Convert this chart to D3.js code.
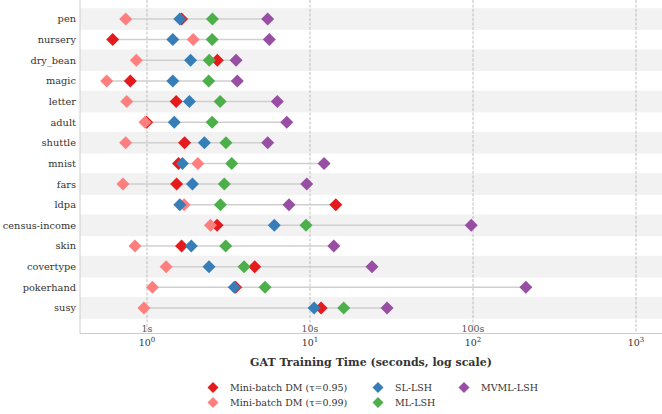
<!DOCTYPE html>
<html>
<head>
<meta charset="utf-8">
<script src="https://cdn.jsdelivr.net/npm/d3@7"></script>
<style>
  body { margin: 0; background: #fff; }
  svg { font-family: "DejaVu Serif", serif; }
</style>
</head>
<body>
<svg id="chart" width="662" height="414"></svg>
<script>
// datasets, top to bottom
const datasets = ['pen', 'nursery', 'dry_bean', 'magic', 'letter', 'adult', 'shuttle', 'mnist',
  'fars', 'ldpa', 'census-income', 'skin', 'covertype', 'pokerhand', 'susy'];

// training time in seconds
const dm095 = [1.63, 0.616, 2.70, 0.790, 1.51, 0.996, 1.70, 1.56, 1.52, 14.4, 2.69, 1.63, 4.58, 3.50, 11.7];
const dm099 = [0.740, 1.92, 0.860, 0.566, 0.751, 0.972, 0.740, 2.05, 0.712, 1.69, 2.45, 0.844, 1.31, 1.08, 0.958];
const slLsh = [1.59, 1.44, 1.85, 1.44, 1.82, 1.47, 2.25, 1.65, 1.90, 1.59, 6.04, 1.87, 2.40, 3.43, 10.6];
const mlLsh = [2.52, 2.51, 2.41, 2.39, 2.81, 2.51, 3.05, 3.31, 2.98, 2.82, 9.45, 3.04, 3.94, 5.30, 16.1];
const mvmlLsh = [5.50, 5.63, 3.52, 3.58, 6.30, 7.20, 5.50, 12.2, 9.55, 7.43, 97.6, 14.0, 24.0, 211, 29.7];

const series = [
  { name: 'Mini-batch DM (τ=0.95)', values: dm095, color: '#e41a1c' },
  { name: 'Mini-batch DM (τ=0.99)', values: dm099, color: '#ff7f7f' },
  { name: 'SL-LSH', values: slLsh, color: '#377eb8' },
  { name: 'ML-LSH', values: mlLsh, color: '#4daf4a' },
  { name: 'MVML-LSH', values: mvmlLsh, color: '#984ea3' }
];

const decades = [1, 10, 100, 1000];
const decadeLabels = ['1s', '10s', '100s'];

const plotLeft = 80, plotRight = 662, plotTop = 0, plotBottom = 333.5;

const svg = d3.select('#chart');

// log x: 1s at 147px, one decade is 163px
const x = d3.scaleLog()
  .domain([Math.pow(10, (plotLeft - 147) / 163), Math.pow(10, (plotRight - 147) / 163)])
  .range([plotLeft, plotRight]);

const y = d3.scaleLinear()
  .domain([-0.92, 15.24])
  .range([plotTop, plotBottom]);

const step = y(1) - y(0);

// alternating row bands
svg.append('g').selectAll('rect')
  .data(datasets.filter((d, i) => i % 2 === 0))
  .join('rect')
  .attr('x', plotLeft)
  .attr('width', plotRight - plotLeft)
  .attr('y', d => y(datasets.indexOf(d)) - step / 2 - 0.5)
  .attr('height', step + 1)
  .attr('fill', '#f2f2f2');

// dashed vertical grid at decades
svg.append('g').selectAll('line')
  .data(decades)
  .join('line')
  .attr('x1', d => x(d)).attr('x2', d => x(d))
  .attr('y1', plotTop).attr('y2', plotBottom)
  .attr('stroke', '#b0b0b0')
  .attr('stroke-width', 0.8)
  .attr('stroke-dasharray', '3,1.5');

// range line per dataset
svg.append('g').selectAll('line')
  .data(datasets)
  .join('line')
  .attr('x1', (d, i) => x(d3.min(series, s => s.values[i])))
  .attr('x2', (d, i) => x(d3.max(series, s => s.values[i])))
  .attr('y1', (d, i) => y(i)).attr('y2', (d, i) => y(i))
  .attr('stroke', '#cfcfcf')
  .attr('stroke-width', 1.5);

const diamond = r => `M0,${-r}L${r},0L0,${r}L${-r},0Z`;

// markers
series.forEach(s => {
  svg.append('g').selectAll('path')
    .data(s.values)
    .join('path')
    .attr('d', diamond(6.5))
    .attr('transform', (d, i) => `translate(${x(d)},${y(i)})`)
    .attr('fill', s.color);
});

// spines
svg.append('line')
  .attr('x1', plotLeft).attr('x2', plotLeft).attr('y1', plotTop).attr('y2', plotBottom)
  .attr('stroke', '#cccccc').attr('stroke-width', 1);
svg.append('line')
  .attr('x1', plotLeft).attr('x2', plotRight).attr('y1', plotBottom).attr('y2', plotBottom)
  .attr('stroke', '#cccccc').attr('stroke-width', 1);

// y labels
svg.append('g').selectAll('text')
  .data(datasets)
  .join('text')
  .attr('x', plotLeft - 4)
  .attr('y', (d, i) => y(i))
  .attr('dy', '0.35em')
  .attr('text-anchor', 'end')
  .attr('font-size', 9.8)
  .attr('fill', '#333')
  .text(d => d);

// "1s" style labels inside plot
svg.append('g').selectAll('text')
  .data(decadeLabels)
  .join('text')
  .attr('x', (d, i) => x(decades[i]))
  .attr('y', 332)
  .attr('text-anchor', 'middle')
  .attr('font-size', 9.5)
  .attr('fill', '#555')
  .text(d => d);

// tick labels 10^n
const tick = svg.append('g').selectAll('text')
  .data(decades)
  .join('text')
  .attr('x', d => x(d))
  .attr('y', 346)
  .attr('text-anchor', 'middle')
  .attr('font-size', 9.5)
  .attr('fill', '#333');
tick.append('tspan').text('10');
tick.append('tspan')
  .attr('dy', -4)
  .attr('font-size', 7)
  .text(d => Math.round(Math.log10(d)));

// axis title
svg.append('text')
  .attr('x', (plotLeft + plotRight) / 2)
  .attr('y', 366)
  .attr('text-anchor', 'middle')
  .attr('font-size', 11)
  .attr('font-weight', 'bold')
  .attr('fill', '#333')
  .text('GAT Training Time (seconds, log scale)');

// legend, column-major like matplotlib
const legendCols = [213, 378, 464];
const legendRows = [387.5, 402.5];
const legend = svg.append('g').selectAll('g')
  .data(series)
  .join('g')
  .attr('transform', (d, i) => {
    const col = i < 2 ? 0 : (i < 4 ? 1 : 2);
    const row = i < 4 ? i % 2 : 0;
    return `translate(${legendCols[col]},${legendRows[row]})`;
  });
legend.append('path')
  .attr('d', diamond(5.5))
  .attr('fill', d => d.color);
legend.append('text')
  .attr('x', 17)
  .attr('dy', '0.35em')
  .attr('font-size', 9.5)
  .attr('fill', '#333')
  .text(d => d.name);
</script>
</body>
</html>
